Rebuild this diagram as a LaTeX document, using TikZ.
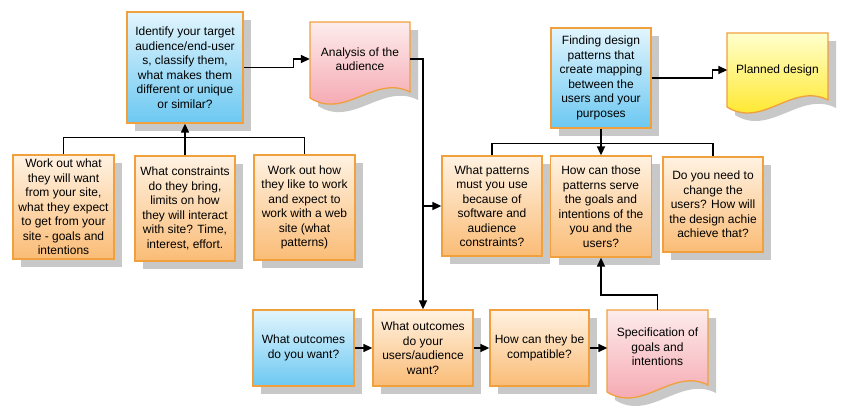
\documentclass[tikz,border=0pt]{standalone}
\usepackage{fontspec}
\setmainfont{Liberation Sans}
\usetikzlibrary{arrows.meta,shadows}
\definecolor{bordc}{RGB}{240,160,60}
\definecolor{shadc}{RGB}{200,200,200}
\definecolor{orT}{RGB}{255,242,226}
\definecolor{orB}{RGB}{250,188,118}
\definecolor{blT}{RGB}{226,245,253}
\definecolor{blB}{RGB}{108,200,242}
\definecolor{pkT}{RGB}{253,236,236}
\definecolor{pkB}{RGB}{244,158,168}
\definecolor{ylT}{RGB}{255,255,205}
\definecolor{ylB}{RGB}{255,228,20}
\newcommand\docpath[5]{(#1,#2) -- (#3,#2) -- (#3,#5) .. controls ({#1+0.65*(#3-#1)},{#5-18}) and ({#1+0.35*(#3-#1)},{#4+22}) .. (#1,#4) -- cycle}
\newcommand\mydoc[7]{%
  \fill[shadc,shift={(8,8)}] \docpath{#1}{#2}{#3}{#4}{#5};
  \shade[top color=#6,bottom color=#7,draw=bordc,line width=1.3pt] \docpath{#1}{#2}{#3}{#4}{#5};}
\tikzset{
  box/.style={draw=bordc,line width=1.3pt,align=center,inner sep=1pt,
    font=\fontsize{12}{14.5}\selectfont,
    drop shadow={shadow xshift=8pt,shadow yshift=-8pt,fill=shadc,opacity=1}},
  obox/.style={box,top color=orT,bottom color=orB},
  bbox/.style={box,top color=blT,bottom color=blB},
  doctext/.style={align=center,inner sep=0pt,minimum width=100pt,minimum height=74pt,
    font=\fontsize{12}{14.5}\selectfont},
  conn/.style={line width=1.6pt,-{Triangle[length=9pt,width=8pt]}},
  plain/.style={line width=1.6pt}
}
\begin{document}
\begin{tikzpicture}[x=1pt,y=-1pt]
\useasboundingbox (0,0) rectangle (844,418);
% document shapes
\mydoc{310}{22}{410}{98}{92}{pkT}{pkB}
\mydoc{727}{33}{828}{107}{100}{ylT}{ylB}
\mydoc{607}{310}{708}{392}{385}{pkT}{pkB}
\node[doctext] (an) at (360,59) {Analysis of the\\audience};
\node[doctext] (pd) at (777.5,70) {Planned design};
\node[doctext] (sp) at (657.5,347) {Specification of\\goals and\\intentions};
% boxes
\node[bbox,minimum width=116pt,minimum height=111pt] (A) at (185,67.5) {Identify your target\\audience/end-user\\s, classify them,\\what makes them\\different or unique\\or similar?};
\node[obox,minimum width=101pt,minimum height=104pt] (B1) at (63.5,207) {Work out what\\they will want\\from your site,\\what they expect\\to get from your\\site - goals and\\intentions};
\node[obox,minimum width=100pt,minimum height=105pt] (B2) at (185,208.5) {What constraints\\do they bring,\\limits on how\\they will interact\\with site? Time,\\interest, effort.};
\node[obox,minimum width=101pt,minimum height=105pt] (B3) at (304.5,207.5) {Work out how\\they like to work\\and expect to\\work with a web\\site (what\\patterns)};
\node[bbox,minimum width=100pt,minimum height=100pt] (F) at (601,78) {Finding design\\patterns that\\create mapping\\between the\\users and your\\purposes};
\node[obox,minimum width=100pt,minimum height=100pt] (C1) at (492,206) {What patterns\\must you use\\because of\\software and\\audience\\constraints?};
\node[obox,minimum width=101pt,minimum height=101pt] (C2) at (601,206.5) {How can those\\patterns serve\\the goals and\\intentions of the\\you and the\\users?};
\node[obox,minimum width=100pt,minimum height=95pt] (C3) at (713,204.5) {Do you need to\\change the\\users? How will\\the design achie\\achieve that?};
\node[bbox,minimum width=101pt,minimum height=76pt] (D1) at (303.5,348) {What outcomes\\do you want?};
\node[obox,minimum width=100pt,minimum height=76pt] (D2) at (423,348) {What outcomes\\do your\\users/audience\\want?};
\node[obox,minimum width=99pt,minimum height=76pt] (D3) at (539.5,348) {How can they be\\compatible?};
% connectors
\draw[conn] (A.east) -- ++(50,0) |- (an.west);
\draw[conn] (an.east) -| (D2.north);
\draw[conn] (D2.north |- C1.west) -- (C1.west);
\draw[plain] (B1.north) -- ++(0,-17) -| (B3.north);
\draw[conn] (B2.north) -- (A.south);
\draw[conn] (F.south) -- (C2.north);
\draw[plain] (C1.north) -- ++(0,-12) -| (C3.north);
\draw[conn] (F.east) -- ++(61,0) |- (pd.west);
\draw[conn] (D1) -- (D2);
\draw[conn] (D2) -- (D3);
\draw[conn] (D3.east) -- (D3.east -| sp.west);
\draw[conn] (sp.north) -- ++(0,-15) -| (C2.south);
\end{tikzpicture}
\end{document}
